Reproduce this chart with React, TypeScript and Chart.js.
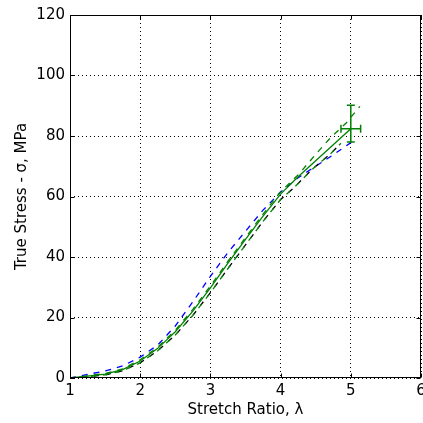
import React, { useEffect, useRef } from "react";
import { Chart, registerables } from "chart.js";

Chart.register(...registerables);

// Mean curve (green solid)
const meanX = [1, 1.25, 1.5, 1.75, 2, 2.25, 2.5, 2.75, 3, 3.25, 3.5, 3.75, 4, 4.25, 4.5, 4.75, 5];
const meanY = [0, 0.6, 1.3, 2.8, 5.6, 9.8, 15.3, 22.1, 29.8, 38, 45.8, 53.5, 60.8, 66.5, 71.8, 77.1, 82.4];
// Upper band (green dashed)
const upperX = [1, 1.25, 1.5, 1.75, 2, 2.25, 2.5, 2.75, 3, 3.25, 3.5, 3.75, 4, 4.26, 4.48, 4.71, 4.93, 5.13];
const upperY = [0, 0.7, 1.5, 3.0, 6.0, 10.2, 15.8, 22.7, 30.4, 38.6, 46.4, 54.2, 61.6, 67.4, 73.4, 79.4, 84.2, 89.8];
// Lower band (green dashed) and black dashed curve
const lowerX = [1, 1.25, 1.5, 1.75, 2, 2.25, 2.5, 2.75, 3, 3.25, 3.5, 3.75, 4, 4.19, 4.45, 4.71, 4.86];
const lowerY = [0, 0.4, 1.0, 2.4, 5.0, 9.0, 14.2, 20.7, 28.2, 36.2, 44, 51.8, 59, 62.9, 69, 74.1, 77.6];
// Blue dashed curve
const blueX = [1, 1.25, 1.5, 1.75, 2, 2.25, 2.5, 2.75, 3, 3.25, 3.5, 3.75, 4, 4.25, 4.5, 4.75, 5.07];
const blueY = [0, 1.2, 2.3, 4.0, 6.9, 10.9, 17.2, 25.2, 33.6, 41.5, 48.5, 55.5, 61.5, 66.2, 70, 73.8, 78.9];

// Error bar at the end of the mean curve
const errX = [5.0];
const errY = [82.4];
const errXMinus = [0.14];
const errXPlus = [0.14];
const errYMinus = [4.4];
const errYPlus = [7.8];

const xTicks = [1, 2, 3, 4, 5, 6];
const yTicks = [0, 20, 40, 60, 80, 100, 120];

const GREEN = "#008000";
const FONT = "'DejaVu Sans', sans-serif";

const pts = (xs: number[], ys: number[]) => xs.map((x, i) => ({ x, y: ys[i] }));

const framePlugin = {
  id: "frame",
  afterDatasetsDraw(chart: any) {
    const { ctx, chartArea, scales } = chart;
    const { left, right, top, bottom } = chartArea;
    const xs = scales.x;
    const ys = scales.y;
    ctx.save();
    // error bars
    ctx.strokeStyle = GREEN;
    ctx.lineWidth = 1.5;
    const cap = 4;
    for (let i = 0; i < errX.length; i++) {
      const cx = xs.getPixelForValue(errX[i]);
      const cy = ys.getPixelForValue(errY[i]);
      const x0 = xs.getPixelForValue(errX[i] - errXMinus[i]);
      const x1 = xs.getPixelForValue(errX[i] + errXPlus[i]);
      const y0 = ys.getPixelForValue(errY[i] - errYMinus[i]);
      const y1 = ys.getPixelForValue(errY[i] + errYPlus[i]);
      ctx.beginPath();
      ctx.moveTo(cx, y0); ctx.lineTo(cx, y1);
      ctx.moveTo(cx - cap, y0); ctx.lineTo(cx + cap, y0);
      ctx.moveTo(cx - cap, y1); ctx.lineTo(cx + cap, y1);
      ctx.moveTo(x0, cy); ctx.lineTo(x1, cy);
      ctx.moveTo(x0, cy - cap); ctx.lineTo(x0, cy + cap);
      ctx.moveTo(x1, cy - cap); ctx.lineTo(x1, cy + cap);
      ctx.stroke();
    }
    // frame
    ctx.strokeStyle = "#000";
    ctx.lineWidth = 1;
    const l = Math.round(left) + 0.5, r = Math.round(right) - 0.5;
    const t = Math.round(top) + 0.5, b = Math.round(bottom) - 0.5;
    ctx.strokeRect(l, t, r - l, b - t);
    // inward ticks
    const tl = 4;
    ctx.beginPath();
    xTicks.forEach((v) => {
      const p = Math.round(xs.getPixelForValue(v)) + 0.5;
      ctx.moveTo(p, b); ctx.lineTo(p, b - tl);
      ctx.moveTo(p, t); ctx.lineTo(p, t + tl);
    });
    yTicks.forEach((v) => {
      const p = Math.round(ys.getPixelForValue(v)) + 0.5;
      ctx.moveTo(l, p); ctx.lineTo(l + tl, p);
      ctx.moveTo(r, p); ctx.lineTo(r - tl, p);
    });
    ctx.stroke();
    ctx.restore();
  },
};

export default function App() {
  const ref = useRef<HTMLCanvasElement | null>(null);
  useEffect(() => {
    if (!ref.current) return;
    Chart.defaults.color = "#000";
    Chart.defaults.font.family = FONT;
    const chart = new Chart(ref.current, {
      type: "line",
      data: {
        datasets: [
          {
            data: pts(meanX, meanY),
            borderColor: GREEN,
            borderWidth: 1.3,
            pointRadius: 0,
            tension: 0,
          },
          {
            data: pts(upperX, upperY),
            borderColor: GREEN,
            borderWidth: 1.3,
            borderDash: [6, 6],
            pointRadius: 0,
          },
          {
            data: pts(lowerX, lowerY),
            borderColor: GREEN,
            borderWidth: 1.3,
            borderDash: [5, 7],
            borderDashOffset: 3,
            pointRadius: 0,
          },
          {
            data: pts(lowerX, lowerY),
            borderColor: "#000",
            borderWidth: 1.3,
            borderDash: [5, 7],
            pointRadius: 0,
          },
          {
            data: pts(blueX, blueY),
            borderColor: "#0000ff",
            borderWidth: 1.3,
            borderDash: [6, 6],
            pointRadius: 0,
          },
        ],
      },
      options: {
        responsive: false,
        animation: false,
        parsing: false as any,
        layout: { padding: { top: 15, right: 2, left: 0, bottom: 0 } },
        plugins: { legend: { display: false }, tooltip: { enabled: false } },
        scales: {
          x: {
            type: "linear",
            min: 1,
            max: 6,
            afterFit: (s: any) => {
              s.height = 45;
              s.paddingLeft = 0;
              s.paddingRight = 0;
            },
            afterBuildTicks: (s: any) => {
              s.ticks = xTicks.map((v) => ({ value: v }));
            },
            ticks: { font: { size: 15 }, padding: 4, maxRotation: 0 },
            grid: { color: "#000", lineWidth: 1, drawTicks: false },
            border: { display: false, dash: [1, 3] },
            title: {
              display: true,
              text: "Stretch Ratio, λ",
              font: { size: 15 },
              padding: { top: 0, bottom: 4 },
            },
          },
          y: {
            type: "linear",
            min: 0,
            max: 120,
            afterFit: (s: any) => {
              s.width = 70;
              s.paddingTop = 0;
              s.paddingBottom = 0;
            },
            afterBuildTicks: (s: any) => {
              s.ticks = yTicks.map((v) => ({ value: v }));
            },
            ticks: { font: { size: 15 }, padding: 5 },
            grid: { color: "#000", lineWidth: 1, drawTicks: false },
            border: { display: false, dash: [1, 3] },
            title: {
              display: true,
              text: "True Stress - σ, MPa",
              font: { size: 15 },
              padding: { top: 13, bottom: 0 },
            },
          },
        },
      },
      plugins: [framePlugin],
    });
    return () => chart.destroy();
  }, []);
  return (
    <div style={{ position: "fixed", left: 0, top: 0, width: 423, height: 423, background: "#fff" }}>
      <canvas ref={ref} width={423} height={423} style={{ display: "block" }} />
    </div>
  );
}
